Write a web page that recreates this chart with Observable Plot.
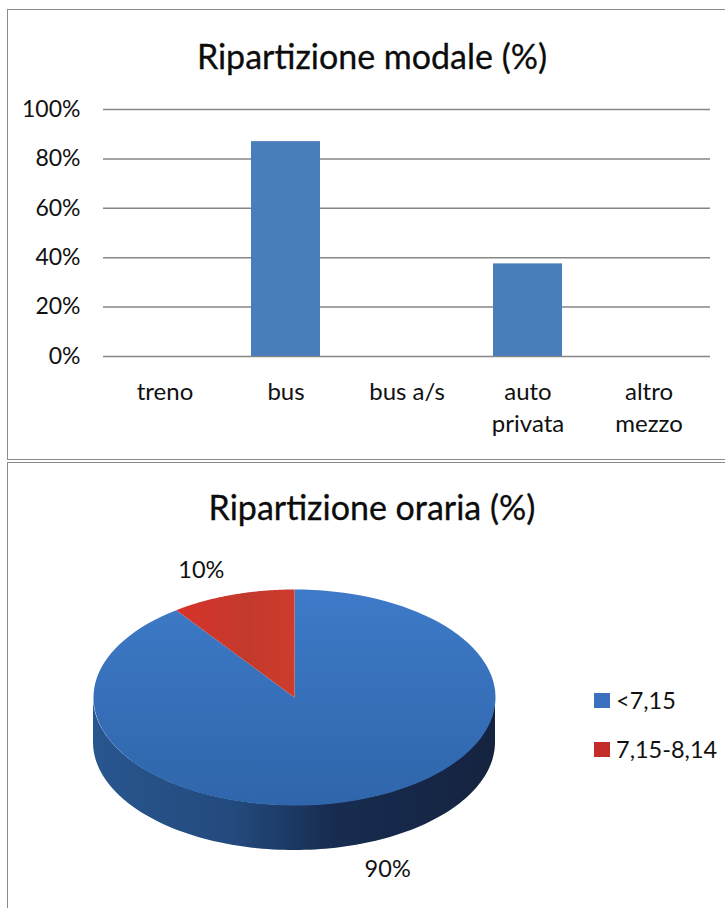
<!DOCTYPE html>
<html><head><meta charset="utf-8">
<script src="https://cdn.jsdelivr.net/npm/d3@7"></script>
<script src="https://cdn.jsdelivr.net/npm/@observablehq/plot@0.6"></script>
<style>
html,body{margin:0;padding:0;background:#fff;width:725px;height:908px;overflow:hidden;font-family:Lato,sans-serif;color:#111}
.frame{position:absolute;left:7px;right:-4px;border:1.5px solid #8b8b8b;box-sizing:border-box}
.plot{position:absolute;left:0}
.title{position:absolute;text-align:center;font-size:34px;line-height:40px;color:#0c0c0c;-webkit-text-stroke:0.3px #0c0c0c}
.legend{position:absolute;left:594px;font-size:23.5px;line-height:26px;display:flex;align-items:center;gap:6px;color:#111;white-space:nowrap}
.legend i{display:block;width:16px;height:15px}
svg text{fill:#111}
</style></head><body>
<div class="frame" style="top:9px;height:451px"></div>
<div class="frame" style="top:462px;height:460px"></div>
<div class="title" style="left:7px;width:730px;top:36px">Ripartizione modale (%)</div>
<div class="title" style="left:7px;width:730px;top:487px">Ripartizione oraria (%)</div>
<div id="bar" class="plot" style="top:0"></div>
<div id="pie" class="plot" style="top:462px"></div>
<div class="legend" style="top:687px"><i id="k0"></i><span id="t0"></span></div>
<div class="legend" style="top:736px"><i id="k1"></i><span id="t1"></span></div>
<script>
const modes = ["treno","bus","bus a/s","auto\nprivata","altro\nmezzo"];
const modeShares = [0,87,0,37.5,0];
const yTicks = [0,20,40,60,80,100];
const slots = ["<7,15","7,15-8,14"];
const slotShares = [90,10];
const slotLabels = ["90%","10%"];
const slotColors = ["#3a70be","#c42c2a"];

const fontStyle = {fontFamily:"Lato,sans-serif",fontSize:"22px",background:"transparent",overflow:"visible"};

const barPlot = Plot.plot({
  width:725,height:460,marginLeft:103,marginRight:15,marginTop:109,marginBottom:104,
  style:fontStyle,
  x:{domain:modes,paddingInner:0.43,paddingOuter:0.215,label:null},
  y:{domain:[0,100],label:null},
  marks:[
    Plot.ruleY(yTicks,{stroke:"#868686",strokeWidth:1.5}),
    Plot.barY(modes.map((m,i)=>({m,v:modeShares[i]})),{x:"m",y:"v",fill:"#4a7ebb"}),
    Plot.axisY({ticks:yTicks,tickSize:0,tickPadding:23,tickFormat:d=>d+"%",label:null,fontSize:23}),
    Plot.axisX({tickSize:0,tickPadding:20,lineHeight:1.36,label:null,fontSize:24})
  ]
});
document.getElementById("bar").append(barPlot);

// Geometry of the tilted disc, in units of its own radius.
const wall = 0.4167;
const arc = (a0,a1,n=120)=>d3.range(n+1).map(i=>{const a=a0+(a1-a0)*i/n;return {x:Math.sin(a),y:Math.cos(a),a};});
const pie = d3.pie().sort(null).startAngle(0).endAngle(2*Math.PI)(slotShares);
const sectors = pie.map((s,i)=>({i,pts:[{x:0,y:0},...arc(s.startAngle,s.endAngle),{x:0,y:0}]}));
const rim = arc(Math.PI/2,3*Math.PI/2);
const labelPts = pie.map((s,i)=>{
  const m=(s.startAngle+s.endAngle)/2, c=Math.cos(m);
  return {x:1.5*Math.sin(m),y:1.24*c-(c<0?wall:0),t:slotLabels[i]};
});
const defs = () => {
  const svg = d3.create("svg:g");
  const d = svg.append("defs");
  const grad=(id,x2,y2,stops)=>{
    const g=d.append("linearGradient").attr("id",id).attr("x1",0).attr("y1",0).attr("x2",x2).attr("y2",y2);
    stops.forEach(([o,c])=>g.append("stop").attr("offset",o).attr("stop-color",c));
  };
  grad("gBlue",0,1,[[0,"#3e7ac8"],[1,"#2f66ab"]]);
  grad("gRed",1,0,[[0,"#d8322a"],[0.6,"#c23a2c"],[1,"#cf3b2d"]]);
  grad("gWall",1,0,[[0,"#28568f"],[0.35,"#234a7d"],[0.6,"#172c50"],[1,"#15233f"]]);
  return svg.node();
};
const piePlot = Plot.plot({
  width:725,height:446,margin:0,
  style:fontStyle,
  x:{domain:[-1,1],range:[93,495],axis:null},
  y:{domain:[-1,1],range:[343,127],axis:null},
  marks:[
    defs,
    Plot.areaY(rim,{x:"x",y1:"y",y2:d=>d.y-wall,fill:"url(#gWall)",curve:"linear"}),
    Plot.line(sectors[0].pts,{x:"x",y:"y",fill:"url(#gBlue)",stroke:"none",curve:"linear"}),
    Plot.line(sectors[1].pts,{x:"x",y:"y",fill:"url(#gRed)",stroke:"none",curve:"linear"}),
    Plot.text(labelPts,{x:"x",y:"y",text:"t",fontSize:23.5,fill:"#111"})
  ]
});
document.getElementById("pie").append(piePlot);

slots.forEach((s,i)=>{
  document.getElementById("k"+i).style.background=slotColors[i];
  document.getElementById("t"+i).textContent=s;
});
</script>
</body></html>
